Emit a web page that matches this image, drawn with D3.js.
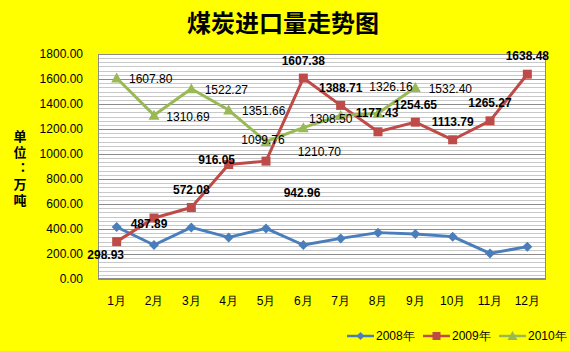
<!DOCTYPE html>
<html>
<head>
<meta charset="utf-8">
<script src="https://cdn.jsdelivr.net/npm/d3@7"></script>
<style>
  body { margin: 0; background: #ffff00; }
  svg { display: block; }
</style>
</head>
<body>
<div id="chart"></div>
<script>
// data
const months = ["1月","2月","3月","4月","5月","6月","7月","8月","9月","10月","11月","12月"];
const seriesNames = ["2008年", "2009年", "2010年"];
const v2008 = [416, 272, 413, 333, 405, 272, 325, 371, 360, 339, 205, 259];
const v2009 = [298.93, 487.89, 572.08, 916.05, 942.96, 1607.38, 1388.71, 1177.43, 1254.65, 1113.79, 1265.27, 1638.48];
const v2010 = [1607.80, 1310.69, 1522.27, 1351.66, 1099.76, 1210.70, 1308.50, 1326.16, 1532.40];
const yTicks = [0, 200, 400, 600, 800, 1000, 1200, 1400, 1600, 1800];

// label offsets (pixels from the point), hand placed like the original
const off2009 = [[-11,13],[-5,6],[0,-17],[-12,-4],[36,32],[0,-17],[0,-17],[-1,-19],[0,-17],[0,-18],[0,-18],[0,-18]];
const off2010 = [[34,1],[34,2],[35,1],[35,1],[-3,-2],[16,24],[-10,4],[13,-26],[35,2]];

const W = 570, H = 351;
const plot = { left: 98, right: 546, top: 54, bottom: 279 };
const numFont = "'Liberation Sans', Arial, sans-serif";
const cjkFont = "'Noto Sans CJK SC', sans-serif";

const svg = d3.select("#chart").append("svg")
  .attr("width", W).attr("height", H);

svg.append("rect").attr("width", W).attr("height", H).attr("fill", "#ffff00");

const x = d3.scaleBand().domain(months).range([plot.left, plot.right]).padding(0);
const y = d3.scaleLinear().domain([0, 1800]).range([plot.bottom, plot.top]);
const cx = m => x(m) + x.bandwidth() / 2;

// plot area
svg.append("rect")
  .attr("x", plot.left).attr("y", plot.top)
  .attr("width", plot.right - plot.left).attr("height", plot.bottom - plot.top)
  .attr("fill", "#ffffff");

// minor gridlines
const minor = d3.range(0, 1800, 200 / 6).filter(v => Math.abs(v % 200) > 1 && Math.abs(v % 200 - 200) > 1);
svg.append("g").selectAll("line").data(minor).join("line")
  .attr("x1", plot.left).attr("x2", plot.right)
  .attr("y1", d => Math.round(y(d)) + 0.5).attr("y2", d => Math.round(y(d)) + 0.5)
  .attr("stroke", "#c8c8c8").attr("stroke-width", 1);

// major gridlines
svg.append("g").selectAll("line").data(yTicks).join("line")
  .attr("x1", plot.left).attr("x2", plot.right)
  .attr("y1", d => Math.round(y(d)) + 0.5).attr("y2", d => Math.round(y(d)) + 0.5)
  .attr("stroke", "#8c8c8c").attr("stroke-width", 1);

svg.append("rect")
  .attr("x", plot.left + 0.5).attr("y", plot.top + 0.5)
  .attr("width", plot.right - plot.left - 1).attr("height", plot.bottom - plot.top - 1)
  .attr("fill", "none").attr("stroke", "#8c8c8c");

// y axis
const yAxis = svg.append("g")
  .attr("transform", `translate(83,0)`)
  .call(d3.axisLeft(y).tickValues(yTicks).tickFormat(d3.format(".2f")).tickSize(0).tickPadding(0));
yAxis.select(".domain").remove();
yAxis.selectAll("text").attr("font-family", numFont).attr("font-size", 12).attr("fill", "#000");

// x axis
const xAxis = svg.append("g")
  .attr("transform", `translate(0,${plot.bottom})`)
  .call(d3.axisBottom(x).tickSize(0).tickPadding(17));
xAxis.select(".domain").remove();
xAxis.selectAll("text").attr("font-family", numFont).attr("font-size", 12).attr("fill", "#000");

// title
svg.append("text")
  .attr("x", 283).attr("y", 32)
  .attr("text-anchor", "middle")
  .attr("font-family", cjkFont).attr("font-size", 24).attr("font-weight", "bold")
  .text("煤炭进口量走势图");

// y axis title, written vertically
svg.append("text")
  .attr("x", 20).attr("y", 130)
  .style("writing-mode", "vertical-rl")
  .style("letter-spacing", "3px")
  .attr("font-family", cjkFont).attr("font-size", 13).attr("font-weight", "bold")
  .text("单位：万吨");

const colors = ["#4a7ebb", "#be4b48", "#98b954"];
const allSeries = [v2008, v2009, v2010];

const line = d3.line().x((d, i) => cx(months[i])).y(d => y(d));

allSeries.forEach((vals, k) => {
  svg.append("path").datum(vals)
    .attr("d", line)
    .attr("fill", "none")
    .attr("stroke", colors[k]).attr("stroke-width", 3)
    .attr("stroke-linejoin", "round");
});

function marker(g, k, px, py, s) {
  if (k === 0) {
    g.append("path")
      .attr("d", `M${px},${py - s}L${px + s},${py}L${px},${py + s}L${px - s},${py}Z`)
      .attr("fill", colors[0]);
  } else if (k === 1) {
    g.append("rect")
      .attr("x", px - s).attr("y", py - s).attr("width", 2 * s).attr("height", 2 * s)
      .attr("fill", colors[1]);
  } else {
    g.append("path")
      .attr("d", `M${px},${py - s - 1}L${px + s + 1},${py + s}L${px - s - 1},${py + s}Z`)
      .attr("fill", colors[2]);
  }
}

const markers = svg.append("g");
allSeries.forEach((vals, k) => {
  vals.forEach((v, i) => marker(markers, k, cx(months[i]), y(v), k === 0 ? 5 : 4.5));
});

// data labels
svg.append("g").selectAll("text").data(v2009).join("text")
  .attr("x", (d, i) => cx(months[i]) + off2009[i][0])
  .attr("y", (d, i) => y(d) + off2009[i][1])
  .attr("text-anchor", "middle").attr("dominant-baseline", "central")
  .attr("font-family", numFont).attr("font-size", 12).attr("font-weight", "bold")
  .text(d => d.toFixed(2));

svg.append("g").selectAll("text").data(v2010).join("text")
  .attr("x", (d, i) => cx(months[i]) + off2010[i][0])
  .attr("y", (d, i) => y(d) + off2010[i][1])
  .attr("text-anchor", "middle").attr("dominant-baseline", "central")
  .attr("font-family", numFont).attr("font-size", 12)
  .text(d => d.toFixed(2));

// legend
const legendX = [347, 423, 499];
const legend = svg.append("g");
seriesNames.forEach((name, k) => {
  const lx = legendX[k], ly = 336;
  legend.append("line")
    .attr("x1", lx).attr("x2", lx + 27).attr("y1", ly).attr("y2", ly)
    .attr("stroke", colors[k]).attr("stroke-width", 2.5);
  marker(legend, k, lx + 13.5, ly, 4);
  legend.append("text")
    .attr("x", lx + 29).attr("y", ly)
    .attr("dominant-baseline", "central")
    .attr("font-family", numFont).attr("font-size", 12)
    .text(name);
});
</script>
</body>
</html>
